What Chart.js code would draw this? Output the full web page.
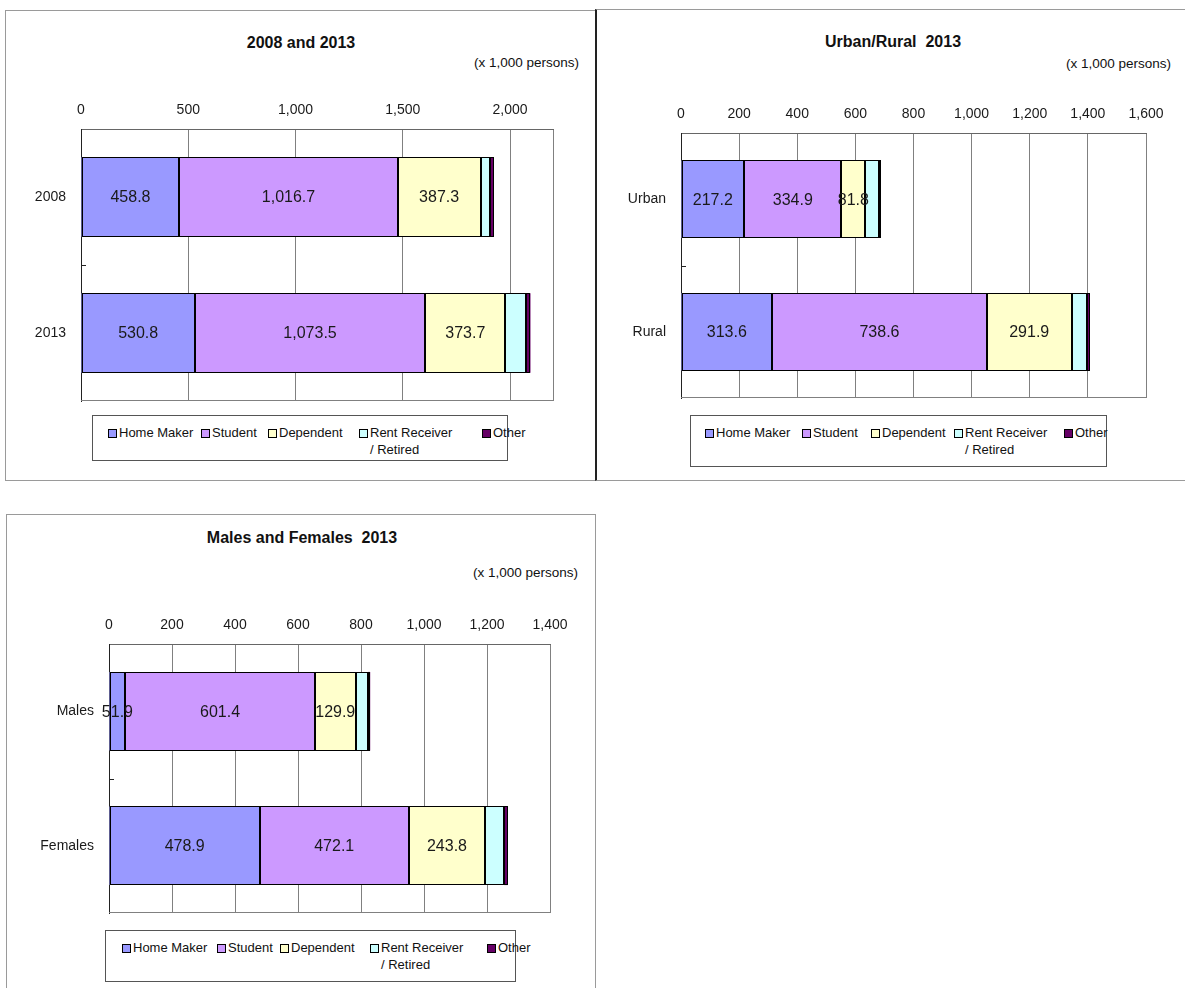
<!DOCTYPE html>
<html>
<head>
<meta charset="utf-8">
<title>Non-working population by activity</title>
<script src="https://cdn.jsdelivr.net/npm/chart.js@4.4.1/dist/chart.umd.min.js"></script>
<style>
  html, body { margin: 0; padding: 0; background: #fff; }
  body { width: 1185px; height: 988px; position: relative; overflow: hidden;
         font-family: "Liberation Sans", Arial, sans-serif; color: #111; }
  .panel { position: absolute; box-sizing: border-box; }
  .title { position: absolute; font-weight: bold; font-size: 16px; white-space: pre; transform: translate(-50%, -50%); }
  .unit { position: absolute; font-size: 13.5px; white-space: pre; transform: translate(-100%, -50%); }
  .legend { position: absolute; box-sizing: border-box; border: 1px solid #555; background: #fff; font-size: 13px; }
  .item { position: absolute; top: 8px; display: flex; align-items: flex-start; white-space: pre-line; line-height: 17px; }
  .swatch { width: 7px; height: 7px; border: 1px solid #000; margin: 5px 2px 0 0; flex: none; }
  canvas { position: absolute; }
</style>
</head>
<body>

<div class="panel" style="left:5px;top:10px;width:591px;height:471px;border:1px solid #9a9a9a;"></div>
<div class="panel" style="left:595px;top:9px;width:600px;height:472px;border-top:1px solid #9a9a9a;border-bottom:1px solid #9a9a9a;border-left:2px solid #222;"></div>
<div class="panel" style="left:6px;top:514px;width:590px;height:500px;border:1px solid #9a9a9a;"></div>

<div class="title" style="left:301px;top:43px;">2008 and 2013</div>
<div class="unit" style="left:579px;top:62px;">(x 1,000 persons)</div>
<div class="title" style="left:893px;top:42px;">Urban/Rural  2013</div>
<div class="unit" style="left:1171px;top:63px;">(x 1,000 persons)</div>
<div class="title" style="left:302px;top:538px;">Males and Females  2013</div>
<div class="unit" style="left:578px;top:572px;">(x 1,000 persons)</div>

<canvas id="yearChart" width="590" height="320" style="left:5px;top:90px;width:590px;height:320px;"></canvas>
<canvas id="areaChart" width="588" height="316" style="left:597px;top:94px;width:588px;height:316px;"></canvas>
<canvas id="sexChart" width="589" height="320" style="left:6px;top:605px;width:589px;height:320px;"></canvas>

<div class="legend" id="yearLegend" style="left:92px;top:415px;width:416px;height:46px;"></div>
<div class="legend" id="areaLegend" style="left:690px;top:415px;width:417px;height:52px;"></div>
<div class="legend" id="sexLegend" style="left:105px;top:930px;width:411px;height:52px;"></div>

<script>
// Series shared by all three charts (thousands of persons)
const seriesNames = ['Home Maker', 'Student', 'Dependent', 'Rent Receiver\n/ Retired', 'Other'];
const seriesColors = ['#9999ff', '#cc99ff', '#ffffcc', '#ccffff', '#660066'];

// 2008 and 2013
const yearLabels = ['2008', '2013'];
const yearHomeMaker = [458.8, 530.8];
const yearStudent = [1016.7, 1073.5];
const yearDependent = [387.3, 373.7];
const yearRentRetired = [45, 98];
const yearOther = [15, 19];
const yearTicks = [0, 500, 1000, 1500, 2000];
const yearAxisMax = 2200;

// Urban / Rural 2013
const areaLabels = ['Urban', 'Rural'];
const areaHomeMaker = [217.2, 313.6];
const areaStudent = [334.9, 738.6];
const areaDependent = [81.8, 291.9];
const areaRentRetired = [46, 52];
const areaOther = [8, 11];
const areaTicks = [0, 200, 400, 600, 800, 1000, 1200, 1400, 1600];
const areaAxisMax = 1600;

// Males and Females 2013
const sexLabels = ['Males', 'Females'];
const sexHomeMaker = [51.9, 478.9];
const sexStudent = [601.4, 472.1];
const sexDependent = [129.9, 243.8];
const sexRentRetired = [38, 60];
const sexOther = [8, 11];
const sexTicks = [0, 200, 400, 600, 800, 1000, 1200, 1400];
const sexAxisMax = 1400;

const FONT = '"Liberation Sans", Arial, sans-serif';
const TEXT = '#1a1a1a';

function withCommas(s) { return s.replace(/\B(?=(\d{3})+(?!\d))/g, ','); }
function fmtTick(v) { return withCommas(String(v)); }
function fmtValue(v) {
  const parts = v.toFixed(1).split('.');
  return withCommas(parts[0]) + '.' + parts[1];
}

// Crisp black outline round every bar segment
const segmentOutline = {
  id: 'segmentOutline',
  afterDatasetsDraw(chart) {
    const ctx = chart.ctx;
    ctx.save();
    ctx.lineWidth = 1;
    ctx.strokeStyle = '#000';
    chart.data.datasets.forEach((ds, i) => {
      chart.getDatasetMeta(i).data.forEach((bar) => {
        const p = bar.getProps(['x', 'y', 'base', 'height'], true);
        const l = Math.round(Math.min(p.x, p.base));
        const r = Math.round(Math.max(p.x, p.base));
        const t = Math.round(p.y - p.height / 2);
        const b = Math.round(p.y + p.height / 2);
        ctx.strokeRect(l + 0.5, t + 0.5, Math.max(r - l - 1, 0), b - t - 1);
      });
    });
    ctx.restore();
  }
};

// Bottom edge of the plot frame and the short inward ticks between categories
const plotFrame = {
  id: 'plotFrame',
  afterDraw(chart) {
    const { ctx, chartArea: a } = chart;
    const yScale = chart.scales.y;
    ctx.save();
    ctx.lineWidth = 1;
    ctx.strokeStyle = '#808080';
    const b = Math.round(a.bottom) - 0.5;
    ctx.beginPath();
    ctx.moveTo(a.left, b);
    ctx.lineTo(a.right, b);
    ctx.stroke();
    ctx.strokeStyle = '#222';
    ctx.beginPath();
    for (let i = 1; i < yScale.ticks.length; i++) {
      const yy = Math.round((yScale.getPixelForTick(i - 1) + yScale.getPixelForTick(i)) / 2) + 0.5;
      ctx.moveTo(a.left, yy);
      ctx.lineTo(a.left + 5, yy);
    }
    ctx.stroke();
    ctx.restore();
  }
};

// Value printed in the middle of each labelled segment
const segmentValues = {
  id: 'segmentValues',
  afterDatasetsDraw(chart) {
    const ctx = chart.ctx;
    ctx.save();
    ctx.font = '16px ' + FONT;
    ctx.fillStyle = TEXT;
    ctx.textAlign = 'center';
    ctx.textBaseline = 'middle';
    chart.data.datasets.forEach((ds, i) => {
      if (!ds.showValue) return;
      chart.getDatasetMeta(i).data.forEach((bar, j) => {
        const p = bar.getProps(['x', 'y', 'base'], true);
        ctx.fillText(fmtValue(ds.data[j]), (p.x + p.base) / 2, p.y + 1);
      });
    });
    ctx.restore();
  }
};

function buildChart(canvasId, labels, series, tickValues, axisMax, area) {
  const datasets = seriesNames.map((name, k) => ({
    label: name.replace('\n', ' '),
    data: series[k],
    backgroundColor: seriesColors[k],
    borderWidth: 0,
    categoryPercentage: 0.585,
    barPercentage: 1,
    showValue: k < 3
  }));
  return new Chart(document.getElementById(canvasId), {
    type: 'bar',
    data: { labels, datasets },
    options: {
      indexAxis: 'y',
      responsive: false,
      animation: false,
      devicePixelRatio: 1,
      layout: { padding: { left: 0, top: 0, right: area.right, bottom: area.bottom } },
      plugins: { legend: { display: false }, tooltip: { enabled: false } },
      scales: {
        x: {
          position: 'top',
          stacked: true,
          min: 0,
          max: axisMax,
          afterBuildTicks: (s) => {
            const vals = tickValues.includes(axisMax) ? tickValues : tickValues.concat([axisMax]);
            s.ticks = vals.map(v => ({ value: v }));
          },
          afterFit: (s) => { s.height = area.top; },
          grid: { color: '#808080', lineWidth: 1, drawTicks: false },
          border: { color: '#666', width: 1 },
          ticks: {
            padding: 10,
            color: TEXT,
            font: { family: FONT, size: 14 },
            maxRotation: 0,
            autoSkip: false,
            callback: (v) => tickValues.includes(v) ? fmtTick(v) : ''
          }
        },
        y: {
          stacked: true,
          afterFit: (s) => { s.width = area.left; s.paddingTop = 0; s.paddingBottom = 0; },
          grid: { display: false, drawTicks: false },
          border: { color: '#222', width: 1 },
          ticks: { padding: 15, color: TEXT, font: { family: FONT, size: 14 } }
        }
      }
    },
    plugins: [segmentOutline, plotFrame, segmentValues]
  });
}

function buildLegend(id, offsets) {
  const box = document.getElementById(id);
  seriesNames.forEach((name, k) => {
    const item = document.createElement('div');
    item.className = 'item';
    item.style.left = offsets[k] + 'px';
    const sw = document.createElement('span');
    sw.className = 'swatch';
    sw.style.background = seriesColors[k];
    const tx = document.createElement('span');
    tx.textContent = name;
    item.appendChild(sw);
    item.appendChild(tx);
    box.appendChild(item);
  });
}

buildChart('yearChart', yearLabels,
  [yearHomeMaker, yearStudent, yearDependent, yearRentRetired, yearOther],
  yearTicks, yearAxisMax, { left: 76, top: 39, right: 42, bottom: 9 });
buildChart('areaChart', areaLabels,
  [areaHomeMaker, areaStudent, areaDependent, areaRentRetired, areaOther],
  areaTicks, areaAxisMax, { left: 84, top: 39, right: 39, bottom: 12 });
buildChart('sexChart', sexLabels,
  [sexHomeMaker, sexStudent, sexDependent, sexRentRetired, sexOther],
  sexTicks, sexAxisMax, { left: 103, top: 39, right: 45, bottom: 12 });

buildLegend('yearLegend', [15, 108, 175, 266, 389]);
buildLegend('areaLegend', [14, 111, 180, 263, 373]);
buildLegend('sexLegend', [16, 111, 174, 264, 381]);
</script>
</body>
</html>
